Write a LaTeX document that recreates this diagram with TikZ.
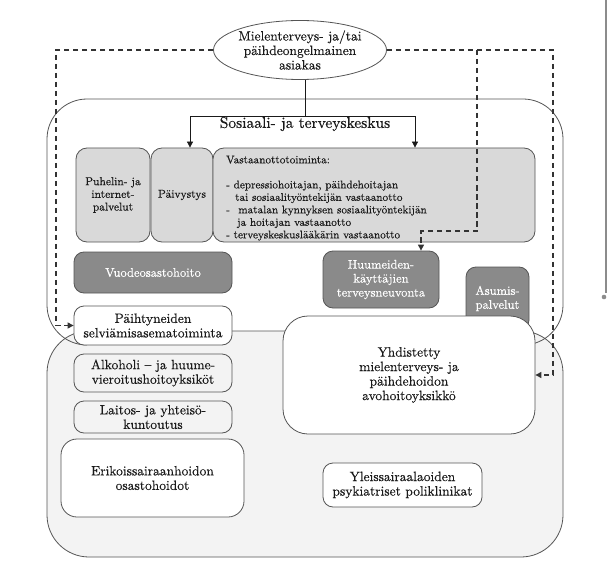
\documentclass[tikz,border=0pt]{standalone}
\usepackage{fontspec}
\setmainfont{lmroman10-regular}[Extension=.otf, FakeBold=0.35]
\usetikzlibrary{shapes.geometric,arrows.meta,calc}
\definecolor{bordc}{HTML}{555555}
\definecolor{lgray}{HTML}{D9D9D9}
\definecolor{dgray}{HTML}{8A8A8A}
\definecolor{bgray}{HTML}{F3F3F3}
\definecolor{txtc}{HTML}{1A1A1A}
\definecolor{dashc}{HTML}{333333}
\definecolor{edgec}{HTML}{8C8C8C}
\newcommand{\fbodyx}{\fontsize{13.5}{14.5}\selectfont}
\newcommand{\fellx}{\fontsize{13.5}{14.5}\selectfont}
\newcommand{\ftitlex}{\fontsize{15.5}{18}\selectfont}
\newcommand{\fsmallx}{\fontsize{11.5}{12.7}\selectfont}
\newcommand{\fvastx}{\fontsize{11.2}{12.5}\selectfont}
\newcommand{\fdarkx}{\fontsize{12.5}{14}\selectfont}
\begin{document}
\begin{tikzpicture}[x=1pt,y=-1pt,
  boxbase/.style={draw=bordc, line width=0.8pt, inner sep=0pt, align=center, text=txtc},
  lbox/.style={boxbase, fill=lgray, rounded corners=11pt, font=\fsmallx},
  dbox/.style={boxbase, fill=dgray, rounded corners=10pt, font=\fdarkx, text=white},
  wbox/.style={boxbase, fill=white, rounded corners=10pt, font=\fbodyx},
  gbox/.style={boxbase, fill=bgray, rounded corners=10pt, font=\fbodyx},
  conn/.style={draw=txtc, line width=0.8pt},
  arr/.style={-{Triangle[length=6pt,width=6pt]}},
  dsh/.style={draw=dashc, line width=1.1pt, dash pattern=on 5.5pt off 3.5pt},
  bigbox/.style={draw=bordc, line width=0.8pt}
]
\useasboundingbox (0,0) rectangle (607,572);
\fill[white] (0,0) rectangle (607,572);

% lower big area
\node[bigbox, fill=bgray, rounded corners=42pt, minimum width=516pt, minimum height=226pt, inner sep=0pt] (lower) at (305,444) {};
% upper big area (open outline)
\draw[bigbox, rounded corners=40pt] (87,345) -- (47,345) -- (47,99) -- (563,99) -- (563,345) -- (523,345);

% client ellipse
\node[ellipse, draw=bordc, line width=0.8pt, fill=white, minimum width=173pt, minimum height=59pt, inner sep=0pt] (ell) at (300,50) {};
\node[align=center, font=\fellx, text=txtc, inner sep=0pt] (ellT) at (300,50) {Mielenterveys- ja/tai\\päihdeongelmainen\\asiakas};

\node[font=\ftitlex, text=txtc, inner sep=0pt] (title) at (305,124) {Sosiaali- ja terveyskeskus};

% first row
\node[lbox, minimum width=74pt, minimum height=94pt] (puh) at (113,195) {Puhelin- ja\\internet-\\palvelut};
\node[lbox, minimum width=62pt, minimum height=94pt] (paiv) at (182,195) {Päivystys};
\node[lbox, minimum width=322pt, minimum height=94pt] (vast) at (374,195) {};
\node[anchor=north west, inner sep=0pt, align=left, font=\fvastx, text=txtc] (vastT) at (226,155.5)
 {Vastaanottotoiminta:\\[12.5pt]
  - depressiohoitajan, päihdehoitajan\\
  \hspace*{9pt}tai sosiaalityöntekijän vastaanotto\\
  -\hspace{0.75em}matalan kynnyksen sosiaalityöntekijän\\
  \hspace*{11pt}ja hoitajan vastaanotto\\
  - terveyskeskuslääkärin vastaanotto};

% dark boxes
\node[dbox, minimum width=158pt, minimum height=41pt] (vuod) at (153,272.5) {Vuodeosastohoito};
\node[dbox, minimum width=116pt, minimum height=57pt] (huum) at (381,279.5) {Huumeiden-\\käyttäjien\\terveysneuvonta};
\node[dbox, minimum width=63pt, minimum height=63pt] (asum) at (497.5,298.5) {Asumis-\\palvelut};

% lower boxes
\node[wbox, minimum width=158pt, minimum height=39pt] (paih) at (153,325.5) {Päihtyneiden\\selviämisasematoiminta};
\node[wbox, rounded corners=25pt, minimum width=252pt, minimum height=118pt] (yhd) at (409,375) {Yhdistetty\\mielenterveys- ja\\päihdehoidon\\avohoitoyksikkö};
\node[gbox, minimum width=158pt, minimum height=38pt] (alk) at (153,373) {Alkoholi -- ja huume-\\vieroitushoitoyksiköt};
\node[gbox, minimum width=158pt, minimum height=32pt] (lait) at (153,417) {Laitos- ja yhteisö-\\kuntoutus};
\node[wbox, rounded corners=16pt, minimum width=183pt, minimum height=78pt] (erik) at (152.5,478) {Erikoissairaanhoidon\\osastohoidot};
\node[wbox, minimum width=159pt, minimum height=44pt] (ylei) at (402.5,485) {Yleissairaalaoiden\\psykiatriset poliklinikat};

% solid connectors
\coordinate (split) at (305,116);
\coordinate (jL) at (190,116);
\coordinate (jR) at (415,116);
\draw[conn] (split |- ell.south) -- (split);
\draw[conn, arr] (split) -- (jL) -- (jL |- paiv.north);
\draw[conn, arr] (split) -- (jR) -- (jR |- vast.north);

% dashed connectors
\coordinate (dL) at (56,50);
\coordinate (dR) at (553,50);
\coordinate (dM) at (477,50);
\coordinate (dMb) at (477,231);
\coordinate (dHx) at (421,231);
\draw[dsh, arr] (ell.west) -- (dL) |- (paih.west);
\draw[dsh, arr] (ell.east) -- (dR) |- (yhd.east);
\draw[dsh, arr] (dM) -- (dMb) -| (dHx |- huum.north);

% page edge artefact
\draw[edgec, line width=1.5pt] (606,0) -- (606,293);
\fill[edgec] (604,297) circle (2.3pt);
\end{tikzpicture}
\end{document}
